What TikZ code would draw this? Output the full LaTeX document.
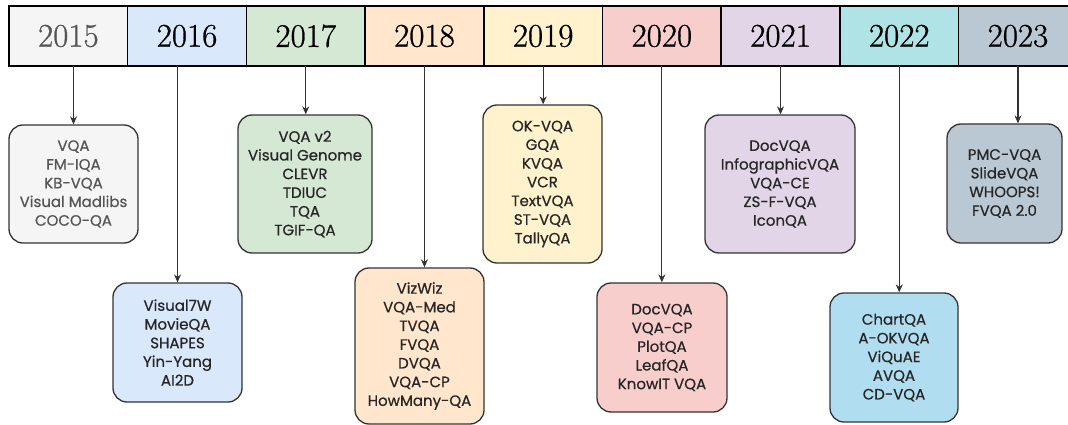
\documentclass[tikz,border=0pt]{standalone}
\usepackage{fontspec}
\newfontfamily\dsfont{Poppins}[FakeBold=0.6]
\newfontfamily\yrfont{Latin Modern Roman}[FakeBold=0.8]
\usepackage{tikz}
\usetikzlibrary{arrows.meta,positioning}
\definecolor{yrgray}  {HTML}{F5F5F5}
\definecolor{yrblue}  {HTML}{DAE8FC}
\definecolor{yrgreen} {HTML}{D5E8D4}
\definecolor{yrorange}{HTML}{FFE6CC}
\definecolor{yryellow}{HTML}{FFF2CC}
\definecolor{yrred}   {HTML}{F8CECC}
\definecolor{yrpurple}{HTML}{E1D5E7}
\definecolor{yrteal}  {HTML}{B0E3E6}
\definecolor{yrslate} {HTML}{BAC8D3}
\definecolor{dsblue}  {HTML}{B1DDF0}
\definecolor{dsline}  {HTML}{333333}
\definecolor{dsmuted} {HTML}{555555}
\tikzset{
  yr/.style={draw=black,line width=1.5pt,minimum width=118.7pt,
             minimum height=60pt,inner sep=0pt,outer sep=0pt,
             font=\yrfont\fontsize{33}{33}\selectfont,text=black},
  ds/.style={draw=dsline,line width=1.3pt,rounded corners=14pt,
             align=center,inner sep=2pt,text=black!85,
             font=\dsfont\fontsize{15}{18.7}\selectfont},
  arr/.style={-{Stealth[length=8pt,width=7pt]},line width=1.1pt,color=dsline},
}

\begin{document}
\begin{tikzpicture}[x=1pt,y=-1pt]
  \useasboundingbox (0,0) rectangle (1068,425);
  % year bar
  \node[yr,fill=yrgray,text=dsmuted](y2015) at (68.35,36){2015};
  \node[yr,fill=yrblue,right=0pt of y2015](y2016){2016};
  \node[yr,fill=yrgreen,right=0pt of y2016](y2017){2017};
  \node[yr,fill=yrorange,right=0pt of y2017](y2018){2018};
  \node[yr,fill=yryellow,right=0pt of y2018](y2019){2019};
  \node[yr,fill=yrred,right=0pt of y2019](y2020){2020};
  \node[yr,fill=yrpurple,right=0pt of y2020](y2021){2021};
  \node[yr,fill=yrteal,right=0pt of y2021](y2022){2022};
  \node[yr,fill=yrslate,right=0pt of y2022](y2023){2023};
  % datasets
  \node[ds,fill=yrgray,text=dsmuted,minimum width=129pt,minimum height=118pt]
       (ds2015) at (73.5,184){VQA\\FM-IQA\\KB-VQA\\Visual Madlibs\\COCO-QA};
  \node[ds,fill=yrblue,minimum width=129pt,minimum height=119pt]
       (ds2016) at (177.5,342.5){Visual7W\\MovieQA\\SHAPES\\Yin-Yang\\AI2D};
  \node[ds,fill=yrgreen,minimum width=134pt,minimum height=138pt]
       (ds2017) at (305,184){VQA v2\\Visual Genome\\CLEVR\\TDIUC\\TQA\\TGIF-QA};
  \node[ds,fill=yrorange,minimum width=129pt,minimum height=156pt]
       (ds2018) at (419.5,346){VizWiz\\VQA-Med\\TVQA\\FVQA\\DVQA\\VQA-CP\\HowMany-QA};
  \node[ds,fill=yryellow,minimum width=119pt,minimum height=158pt]
       (ds2019) at (542.5,184){OK-VQA\\GQA\\KVQA\\VCR\\TextVQA\\ST-VQA\\TallyQA};
  \node[ds,fill=yrred,minimum width=130pt,minimum height=129pt]
       (ds2020) at (662,347.5){DocVQA\\VQA-CP\\PlotQA\\LeafQA\\KnowIT VQA};
  \node[ds,fill=yrpurple,minimum width=150pt,minimum height=138pt]
       (ds2021) at (780,184){DocVQA\\InfographicVQA\\VQA-CE\\ZS-F-VQA\\IconQA};
  \node[ds,fill=dsblue,minimum width=128pt,minimum height=129pt]
       (ds2022) at (894,357.5){ChartQA\\A-OKVQA\\ViQuAE\\AVQA\\CD-VQA};
  \node[ds,fill=yrslate,minimum width=115pt,minimum height=119pt]
       (ds2023) at (1004.5,183.5){PMC-VQA\\SlideVQA\\WHOOPS!\\FVQA 2.0};
  % arrows
  \draw[arr](ds2015.north |- y2015.south)--(ds2015.north);
  \draw[arr](ds2016.north |- y2016.south)--(ds2016.north);
  \draw[arr](y2017.south)--(y2017.south |- ds2017.north);
  \draw[arr](y2018.south)--(y2018.south |- ds2018.north);
  \draw[arr](y2019.south)--(y2019.south |- ds2019.north);
  \draw[arr](y2020.south)--(y2020.south |- ds2020.north);
  \draw[arr](y2021.south)--(y2021.south |- ds2021.north);
  \draw[arr](y2022.south)--(y2022.south |- ds2022.north);
  \draw[arr](y2023.south)--(y2023.south |- ds2023.north);
\end{tikzpicture}
\end{document}
